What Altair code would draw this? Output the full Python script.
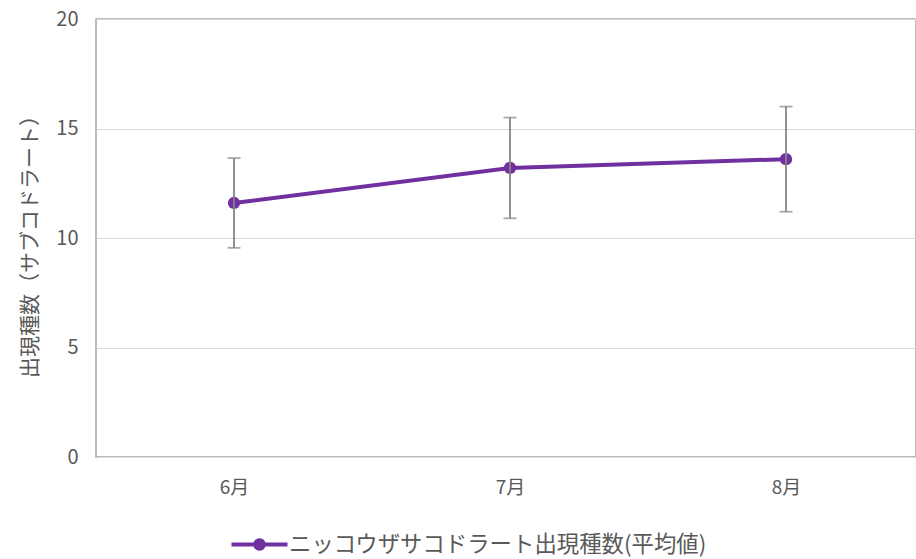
import altair as alt
import pandas as pd

# Monthly mean species count per sub-quadrat, with its spread
months = ["6月", "7月", "8月"]
mean_counts = [11.6, 13.2, 13.6]
spread = [2.05, 2.3, 2.4]
series_name = "ニッコウザサコドラート出現種数(平均値)"

PURPLE = "#7030a0"
GREY_TEXT = "#595959"
FONT = "Noto Sans CJK JP"

df = pd.DataFrame({
    "month": months,
    "mean": mean_counts,
    "lo": [m - s for m, s in zip(mean_counts, spread)],
    "hi": [m + s for m, s in zip(mean_counts, spread)],
    "series": [series_name] * len(months),
})

# legend glyph: a short thick line with a dot in the middle
legend_glyph = (
    "M-2.24,-0.16 L2.24,-0.16 L2.24,0.16 L-2.24,0.16 Z "
    "M0,-0.5 A0.5,0.5 0 1,1 0,0.5 A0.5,0.5 0 1,1 0,-0.5 Z"
)

x_enc = alt.X(
    "month:N",
    sort=months,
    title=None,
    scale=alt.Scale(type="point", padding=0.5, range=[0, 828]),
    axis=alt.Axis(
        labelAngle=0,
        labelFont=FONT,
        labelFontSize=19,
        labelColor=GREY_TEXT,
        labelPadding=21,
        ticks=False,
        domain=False,
        grid=False,
    ),
)

y_scale = alt.Scale(domain=[0, 20], nice=False, zero=True)
y_axis = alt.Axis(
    values=[0, 5, 10, 15, 20],
    title="出現種数（サブコドラート）",
    titleFont=FONT,
    titleFontSize=21,
    titleFontWeight="normal",
    titleColor=GREY_TEXT,
    titleAngle=270,
    titleAlign="center",
    titleBaseline="middle",
    titleX=-66,
    titleY=222,
    labelFont=FONT,
    labelFontSize=20,
    labelColor=GREY_TEXT,
    labelPadding=18,
    ticks=False,
    domain=False,
    grid=True,
    gridColor="#d9d9d9",
    gridWidth=1,
)

base = alt.Chart(df)

line = base.mark_line(color=PURPLE, strokeWidth=4).encode(
    x=x_enc,
    y=alt.Y("mean:Q", scale=y_scale, axis=y_axis),
)

points = base.mark_point(filled=True, size=150, opacity=1).encode(
    x=x_enc,
    y=alt.Y("mean:Q", scale=y_scale),
    color=alt.Color(
        "series:N",
        scale=alt.Scale(domain=[series_name], range=[PURPLE]),
        legend=alt.Legend(
            title=None,
            orient="none",
            legendX=151,
            legendY=513,
            symbolType=legend_glyph,
            symbolSize=625,
            symbolStrokeWidth=0,
            symbolFillColor=PURPLE,
            labelFont=FONT,
            labelFontSize=22.4,
            labelColor=GREY_TEXT,
            labelLimit=0,
            labelOffset=17,
            padding=0,
        ),
    ),
)

bars = base.mark_rule(color="#858585", strokeWidth=1.8).encode(
    x=x_enc,
    y=alt.Y("lo:Q", scale=y_scale),
    y2="hi:Q",
)

caps_lo = base.mark_tick(color="#858585", thickness=1.8, size=13).encode(
    x=x_enc, y=alt.Y("lo:Q", scale=y_scale)
)
caps_hi = base.mark_tick(color="#858585", thickness=1.8, size=13).encode(
    x=x_enc, y=alt.Y("hi:Q", scale=y_scale)
)

chart = (
    alt.layer(line, points, bars, caps_lo, caps_hi)
    .properties(
        width=820,
        height=438,
        autosize=alt.AutoSizeParams(type="none"),
        padding={"left": 96, "top": 19, "right": 0, "bottom": 102},
        background="white",
    )
    .configure_view(stroke="#a6a6a6", strokeWidth=1.5)
)

chart.save("out.html", embed_options={"renderer": "svg", "actions": False})
